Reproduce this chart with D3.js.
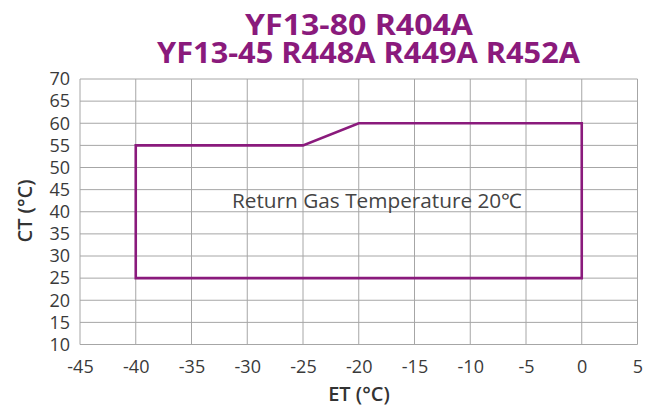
<!DOCTYPE html>
<html><head><meta charset="utf-8">
<script src="https://cdn.jsdelivr.net/npm/d3@7"></script>
<style>body{margin:0;background:#fff}svg{display:block}</style>
</head><body>
<svg id="c" width="654" height="412"></svg>
<script>
const titleLines = ["YF13-80 R404A", "YF13-45 R448A R449A R452A"];
const xTicks = [-45,-40,-35,-30,-25,-20,-15,-10,-5,0,5];
const yTicks = [10,15,20,25,30,35,40,45,50,55,60,65,70];
const envelopeET = [-40,-40,-25,-20,0,0];
const envelopeCT = [25,55,55,60,60,25];
const annotation = "Return Gas Temperature 20\u2103";
const xLabel = "ET (\u00B0C)", yLabel = "CT (\u00B0C)";

const svg = d3.select("#c");
const m = {l:80, r:637.5, t:79, b:344.5};
const x = d3.scaleLinear().domain([-45,5]).range([m.l,m.r]);
const y = d3.scaleLinear().domain([10,70]).range([m.b,m.t]);
const purple = "#8a1a7c";
const font = "'Open Sans', sans-serif";

// grid
svg.append("g").selectAll("line").data(xTicks).join("line")
  .attr("x1",d=>x(d)).attr("x2",d=>x(d)).attr("y1",m.t).attr("y2",m.b)
  .attr("stroke","#a6a6a6").attr("stroke-width",1);
svg.append("g").selectAll("line").data(yTicks).join("line")
  .attr("y1",d=>y(d)).attr("y2",d=>y(d)).attr("x1",m.l).attr("x2",m.r)
  .attr("stroke","#a6a6a6").attr("stroke-width",1);

// axes labels
const xa = svg.append("g").attr("transform",`translate(0,${m.b})`)
  .call(d3.axisBottom(x).tickValues(xTicks).tickSize(0).tickPadding(16).tickFormat(d=>d));
const ya = svg.append("g").attr("transform",`translate(${m.l},0)`)
  .call(d3.axisLeft(y).tickValues(yTicks).tickSize(0).tickPadding(10).tickFormat(d=>d));
[xa,ya].forEach(a=>{a.select(".domain").remove();
  a.selectAll("text").attr("font-family",font).attr("font-size",18).attr("fill","#3a3a3a");});

// envelope
const pts = envelopeET.map((e,i)=>[x(e),y(envelopeCT[i])]);
svg.append("path").attr("d",d3.line()(pts)+"Z").attr("fill","none")
  .attr("stroke",purple).attr("stroke-width",2.6);

svg.append("text").attr("x",377).attr("y",208).attr("text-anchor","middle")
  .attr("font-family",font).attr("font-size",20).attr("fill","#444")
  .attr("textLength",290).attr("lengthAdjust","spacingAndGlyphs").text(annotation);

// titles
const titleX = [359, 368.5], titleY = [35, 63], titleW = [228, 423];
svg.selectAll(".t").data(titleLines).join("text")
  .attr("x",(d,i)=>titleX[i]).attr("y",(d,i)=>titleY[i]).attr("text-anchor","middle")
  .attr("font-family",font).attr("font-weight","bold").attr("font-size",28)
  .attr("textLength",(d,i)=>titleW[i]).attr("lengthAdjust","spacingAndGlyphs")
  .attr("fill",purple).text(d=>d);

svg.append("text").attr("x",359).attr("y",401).attr("text-anchor","middle")
  .attr("font-family",font).attr("font-weight",600).attr("font-size",20).attr("fill","#333").text(xLabel);
svg.append("text").attr("transform","translate(32,211) rotate(-90)").attr("text-anchor","middle")
  .attr("font-family",font).attr("font-weight",600).attr("font-size",20).attr("fill","#333").text(yLabel);
</script>
</body></html>
